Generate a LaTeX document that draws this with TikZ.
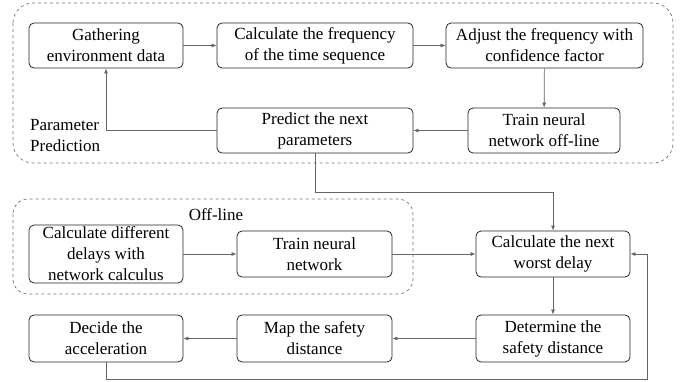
\documentclass[tikz,border=0pt]{standalone}
\usepackage{fontspec}
\setmainfont{Liberation Serif}
\usetikzlibrary{arrows.meta}

\begin{document}
\begin{tikzpicture}[x=1pt,y=-1pt,
    box/.style={draw=black!85, line width=0.8pt, rounded corners=5pt, align=center,
        font=\fontsize{17}{21}\selectfont, inner sep=1pt},
    group/.style={draw=black!55, dashed, line width=0.7pt},
    flow/.style={draw=black!60, line width=0.7pt, -{Latex[length=5pt,width=4pt]}},
    lbl/.style={font=\fontsize{17}{21}\selectfont, inner sep=0pt}]

    \useasboundingbox (0,0) rectangle (684,381);

    % groups
    \draw[group, rounded corners=20pt] (13,3) rectangle (673,163);
    \draw[group, rounded corners=15pt] (13,199) rectangle (413,294);
    \node[lbl, align=left, anchor=west] (pplabel) at (30,136) {Parameter\\Prediction};
    \node[lbl] (offlabel) at (216,215) {Off-line};

    % parameter prediction
    \node[box, minimum width=154pt, minimum height=45pt] (gather) at (106,45.5) {Gathering\\environment data};
    \node[box, minimum width=196pt, minimum height=45pt] (freq) at (315,45.5) {Calculate the frequency\\of the time sequence};
    \node[box, minimum width=197pt, minimum height=45pt] (adjust) at (544.5,45.5) {Adjust the frequency with\\confidence factor};
    \node[box, minimum width=152pt, minimum height=45pt] (trainoff) at (544,130.5) {Train neural\\network off-line};
    \node[box, minimum width=196pt, minimum height=45pt] (predict) at (315,130.5) {Predict the next\\parameters};

    % off-line
    \node[box, minimum width=154pt, minimum height=58pt] (delays) at (106,254) {Calculate different\\delays with\\network calculus};
    \node[box, minimum width=155pt, minimum height=46pt] (trainnn) at (314.5,254) {Train neural\\network};

    % main loop
    \node[box, minimum width=154pt, minimum height=46pt] (worst) at (553,254) {Calculate the next\\worst delay};
    \node[box, minimum width=154pt, minimum height=47pt] (safety) at (553,338.5) {Determine the\\safety distance};
    \node[box, minimum width=155pt, minimum height=47pt] (map) at (314.5,338.5) {Map the safety\\distance};
    \node[box, minimum width=154pt, minimum height=47pt] (accel) at (106,338.5) {Decide the\\acceleration};

    \coordinate (loopa) at (647,379);

    % arrows
    \draw[flow] (gather) -- (freq);
    \draw[flow] (freq) -- (adjust);
    \draw[flow] (adjust) -- (trainoff);
    \draw[flow] (trainoff) -- (predict);
    \draw[flow] (predict.west) -| (gather.south);
    \draw[flow] (predict.south) |- ([yshift=-39pt]predict.south -| worst.north) -- (worst.north);
    \draw[flow] (delays) -- (trainnn);
    \draw[flow] (trainnn) -- (worst);
    \draw[flow] (worst) -- (safety);
    \draw[flow] (safety) -- (map);
    \draw[flow] (map) -- (accel);
    \draw[flow] (accel.south) |- (loopa) |- (worst.east);

\end{tikzpicture}
\end{document}
